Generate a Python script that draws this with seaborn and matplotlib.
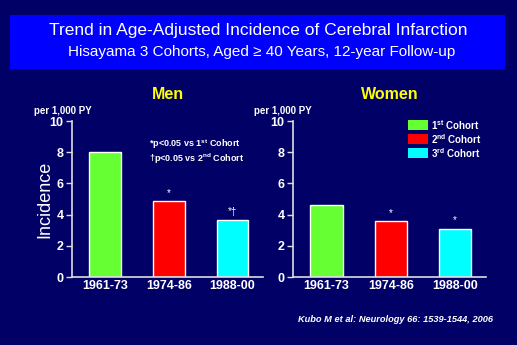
import matplotlib
matplotlib.use("Agg")
import matplotlib.pyplot as plt
import seaborn as sns
import pandas as pd
from matplotlib.patches import Rectangle

periods = ["1961-73", "1974-86", "1988-00"]
men_values = [8.0, 4.85, 3.65]
women_values = [4.6, 3.6, 3.1]
men_marks = ["", "*", "*\u2020"]
women_marks = ["", "*", "*"]
cohort_labels = ["1$^{\\mathregular{st}}$ Cohort", "2$^{\\mathregular{nd}}$ Cohort", "3$^{\\mathregular{rd}}$ Cohort"]
colors = ["#66FF33", "#FF0000", "#00FFFF"]
yticks = [0, 2, 4, 6, 8, 10]

sns.set_style("white")
plt.rcParams["font.family"] = ["Liberation Sans", "DejaVu Sans"]
plt.rcParams["mathtext.default"] = "regular"

BG = "#000066"
W, H = 517, 345
fig = plt.figure(figsize=(W / 100, H / 100), dpi=100, facecolor=BG)

def px_axes(x0, y0, x1, y1):
    return fig.add_axes([x0 / W, 1 - y1 / H, (x1 - x0) / W, (y1 - y0) / H])

# title box
fig.patches.append(Rectangle((10 / W, 1 - 69 / H), 495 / W, 54 / H,
                             transform=fig.transFigure, facecolor="#0000FF", edgecolor="none"))
fig.text(258 / W, 1 - 30 / H, "Trend in Age-Adjusted Incidence of Cerebral Infarction",
         color="white", fontsize=12.5, ha="center", va="center")
fig.text(262 / W, 1 - 52 / H, "Hisayama 3 Cohorts, Aged \u2265 40 Years, 12-year Follow-up",
         color="white", fontsize=11, ha="center", va="center")

def panel(ax, values, marks, title):
    df = pd.DataFrame({"period": periods, "value": values})
    sns.barplot(data=df, x="period", y="value", hue="period", palette=colors,
                width=0.5, legend=False, ax=ax, saturation=1)
    ax.set_facecolor(BG)
    ax.set_xlim(-0.52, 2.48)
    ax.set_ylim(0, 10)
    ax.set_yticks(yticks)
    ax.set_xlabel("")
    ax.set_ylabel("")
    for s in ["top", "right"]:
        ax.spines[s].set_visible(False)
    for s in ["left", "bottom"]:
        ax.spines[s].set_color("#DDDDDD")
        ax.spines[s].set_linewidth(1.2)
    ax.tick_params(axis="y", colors="#DDDDDD", length=4, width=1, direction="out", left=True, pad=2)
    ax.tick_params(axis="x", length=0, pad=2)
    for lab in ax.get_yticklabels() + ax.get_xticklabels():
        lab.set_color("white")
        lab.set_fontweight("bold")
        lab.set_fontsize(9)
    for i, (v, m) in enumerate(zip(values, marks)):
        if m:
            ax.text(i, v + 0.2, m, color="white", fontsize=7, ha="center", va="bottom")
    ax.text(0.5, 1.12, title, transform=ax.transAxes, color="#FFFF00",
            fontsize=11.5, fontweight="bold", ha="center", va="bottom")
    ax.text(-0.2, 1.03, "per 1,000 PY", transform=ax.transAxes, color="white",
            fontsize=7, fontweight="bold", ha="left", va="bottom")

ax1 = px_axes(72, 121, 263, 277)
panel(ax1, men_values, men_marks, "Men")
ax1.set_ylabel("Incidence", color="white", fontsize=13)
ax1.yaxis.set_label_coords(-0.10, 0.5)
ax1.text(0.69, 8.5, "*p<0.05 vs 1$^{\\mathregular{st}}$ Cohort", color="white", fontsize=6.5,
         fontweight="bold", ha="left", va="center")
ax1.text(0.69, 7.6, "\u2020p<0.05 vs 2$^{\\mathregular{nd}}$ Cohort", color="white", fontsize=6.5,
         fontweight="bold", ha="left", va="center")

ax2 = px_axes(293, 121, 486, 277)
panel(ax2, women_values, women_marks, "Women")

# legend
for i, (lab, c) in enumerate(zip(cohort_labels, colors)):
    y = 120 + i * 14
    fig.patches.append(Rectangle((408 / W, 1 - (y + 10) / H), 20 / W, 10 / H,
                                 transform=fig.transFigure, facecolor=c, edgecolor="none"))
    fig.text(431 / W, 1 - (y + 5) / H, lab, color="white", fontsize=7,
             fontweight="bold", ha="left", va="center")

fig.text(298 / W, 1 - 320 / H, "Kubo M et al: Neurology 66: 1539-1544, 2006",
         color="white", fontsize=6.7, fontstyle="italic", fontweight="bold", ha="left", va="center")

fig.savefig("out.png", dpi=100, facecolor=BG)
